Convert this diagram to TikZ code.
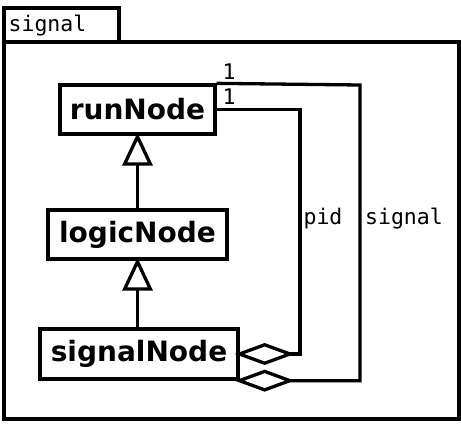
\documentclass[tikz,border=0pt]{standalone}
\usepackage{fontspec}
\setmainfont{DejaVu Sans}
\setmonofont{DejaVu Sans Mono}
\usetikzlibrary{arrows.meta}
\begin{document}
\begin{tikzpicture}[x=1pt,y=-1pt,line width=3.3pt,
  cls/.style={draw,rectangle,inner sep=0pt,font=\fontsize{28}{30}\selectfont\bfseries},
  lbl/.style={inner sep=0pt,font=\fontsize{21.5}{24}\selectfont\ttfamily},
  inh/.style={-{Triangle[open,length=33pt,width=30pt]},shorten >=-3pt},
  agg/.style={-{Diamond[open,length=60pt,width=22pt]},shorten >=-5pt}]
\useasboundingbox (0,0) rectangle (461,425);
% package frame
\node[draw,rectangle,inner sep=0pt,minimum width=115pt,minimum height=34pt] (tab) at (61.5,25) {};
\node[lbl,anchor=west] (tabtxt) at (7,26) {signal};
\node[draw,rectangle,inner sep=0pt,minimum width=455pt,minimum height=377pt] (frame) at (231.5,230.5) {};
% classes
\node[cls,minimum width=155pt,minimum height=49pt] (run) at (137.5,109.5) {runNode};
\node[cls,minimum width=179pt,minimum height=49pt] (logic) at (137.5,234.5) {logicNode};
\node[cls,minimum width=198pt,minimum height=50pt] (sig) at (139,354) {signalNode};
% inheritance
\draw[inh] (logic.north) -- (run.south);
\draw[inh] (logic.south |- sig.north) -- (logic.south);
% aggregations
\coordinate (p1) at (300,109.5);
\coordinate (s1) at (360,85);
\draw[agg] (run.east) -- (p1) |- (sig.east);
\draw[agg] (run.north east) -- (s1) |- (sig.south east);
% labels
\node[lbl] (m1) at (229,72) {1};
\node[lbl] (m2) at (229,97) {1};
\node[lbl] (lpid) at (323,219) {pid};
\node[lbl] (lsig) at (404,219) {signal};
\end{tikzpicture}
\end{document}
